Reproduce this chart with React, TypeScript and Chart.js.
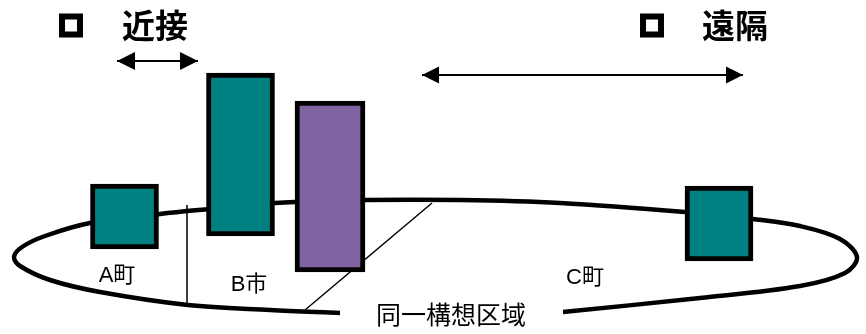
import React, { useEffect, useRef } from "react";
import { Chart, registerables } from "chart.js";

Chart.register(...registerables);

// Boxes (floating bars): centre x and [top, bottom] on the diagram's coordinate grid
const tealX = [124.5, 240.5, 719];
const tealRange = [[184, 249], [73, 236], [186, 261]];
const purpleX = [330];
const purpleRange = [[101, 272]];

// Outline of the region (ellipse), read along its path
const regionX = [340, 270, 188, 100, 50, 20, 14, 22, 45, 90, 160, 210, 275, 365, 460, 560, 685, 753, 800, 840, 857, 845, 800, 700, 563];
const regionY = [313, 310, 305, 292, 280, 266, 257, 247, 236, 223, 214, 209, 203, 200, 200, 203, 212, 219, 226, 239, 257, 273, 286, 298, 312];

// Divider lines
const dividerX = [187, 187];
const dividerY = [205, 306];
const diagonalX = [432, 305];
const diagonalY = [203, 310];

// Arrows
const nearArrowX = [117, 198];
const nearArrowY = [61, 61];
const farArrowX = [422, 743];
const farArrowY = [75, 75];

// Bullet markers
const markerX = [71, 652];
const markerY = [25.5, 25.5];

// Texts
const titleLabels = ["近接", "遠隔"];
const titleX = [155, 735];
const titleY = [25, 25];
const areaLabels = ["A町", "B市", "C町"];
const areaX = [117, 249, 585];
const areaY = [276, 285, 278];
const regionLabel = "同一構想区域";
const regionLabelX = 451;
const regionLabelY = 314;

const pts = (xs: number[], ys: number[]) => xs.map((x, i) => ({ x, y: ys[i] }));

const arrowPlugin = {
  id: "arrowHeads",
  afterDatasetsDraw(chart: any) {
    const ctx = chart.ctx;
    chart.data.datasets.forEach((ds: any, i: number) => {
      if (!ds.arrowHead) return;
      const meta = chart.getDatasetMeta(i);
      const els = meta.data;
      if (els.length < 2) return;
      const L = ds.arrowHead;
      const draw = (tip: any, from: any) => {
        const ang = Math.atan2(tip.y - from.y, tip.x - from.x);
        ctx.save();
        ctx.translate(tip.x, tip.y);
        ctx.rotate(ang);
        ctx.beginPath();
        ctx.moveTo(0, 0);
        ctx.lineTo(-L, -L / 2);
        ctx.lineTo(-L, L / 2);
        ctx.closePath();
        ctx.fillStyle = "#000";
        ctx.fill();
        ctx.restore();
      };
      draw(els[0], els[1]);
      draw(els[els.length - 1], els[els.length - 2]);
    });
  },
};

const textPlugin = {
  id: "diagramTexts",
  afterDraw(chart: any) {
    const ctx = chart.ctx;
    const sx = chart.scales.x;
    const sy = chart.scales.y;
    ctx.save();
    ctx.fillStyle = "#000";
    ctx.textAlign = "center";
    ctx.textBaseline = "middle";
    ctx.font = "bold 33px 'Noto Sans CJK JP'";
    titleLabels.forEach((t, i) => ctx.fillText(t, sx.getPixelForValue(titleX[i]), sy.getPixelForValue(titleY[i])));
    ctx.font = "22px 'Liberation Sans', 'Noto Sans CJK JP'";
    areaLabels.forEach((t, i) => ctx.fillText(t, sx.getPixelForValue(areaX[i]), sy.getPixelForValue(areaY[i])));
    ctx.font = "25px 'Noto Sans CJK JP'";
    ctx.fillText(regionLabel, sx.getPixelForValue(regionLabelX), sy.getPixelForValue(regionLabelY));
    ctx.restore();
  },
};

export default function App() {
  const ref = useRef<HTMLCanvasElement>(null);
  useEffect(() => {
    document.body.style.margin = "0";
    const chart = new Chart(ref.current!, {
      type: "bar",
      data: {
        datasets: [
          {
            type: "bar",
            data: tealX.map((x, i) => ({ x, y: tealRange[i] })) as any,
            backgroundColor: "#008080",
            borderColor: "#000",
            borderWidth: 5,
            borderSkipped: false,
            barThickness: 68,
            grouped: false,
            order: 0,
          } as any,
          {
            type: "bar",
            data: purpleX.map((x, i) => ({ x, y: purpleRange[i] })) as any,
            backgroundColor: "#8064A2",
            borderColor: "#000",
            borderWidth: 5,
            borderSkipped: false,
            barThickness: 70,
            grouped: false,
            order: 0,
          } as any,
          {
            type: "line",
            data: pts(regionX, regionY),
            borderColor: "#000",
            borderWidth: 4.5,
            tension: 0.35,
            pointRadius: 0,
            fill: false,
            order: 2,
          } as any,
          {
            type: "line",
            data: pts(dividerX, dividerY),
            borderColor: "#000",
            borderWidth: 1.5,
            pointRadius: 0,
            order: 3,
          } as any,
          {
            type: "line",
            data: pts(diagonalX, diagonalY),
            borderColor: "#000",
            borderWidth: 1.5,
            pointRadius: 0,
            order: 3,
          } as any,
          {
            type: "line",
            data: pts(nearArrowX, nearArrowY),
            borderColor: "#000",
            borderWidth: 2,
            pointRadius: 0,
            arrowHead: 18,
            order: 1,
          } as any,
          {
            type: "line",
            data: pts(farArrowX, farArrowY),
            borderColor: "#000",
            borderWidth: 2,
            pointRadius: 0,
            arrowHead: 17,
            order: 1,
          } as any,
          {
            type: "scatter",
            data: pts(markerX, markerY),
            pointStyle: "rect",
            pointRadius: 12.7,
            pointBackgroundColor: "#fff",
            pointBorderColor: "#000",
            pointBorderWidth: 6,
            order: 1,
          } as any,
        ],
      },
      options: {
        animation: false,
        responsive: false,
        maintainAspectRatio: false,
        layout: { padding: 0, autoPadding: false },
        plugins: { legend: { display: false }, tooltip: { enabled: false } },
        scales: {
          x: { type: "linear", min: 0, max: 866, display: false, offset: false, grace: 0 },
          y: { type: "linear", min: 0, max: 334, reverse: true, display: false, offset: false, grace: 0 },
        },
      },
      plugins: [arrowPlugin, textPlugin],
    });
    return () => chart.destroy();
  }, []);
  return (
    <div style={{ width: 866, height: 334, background: "#fff" }}>
      <canvas ref={ref} width={866} height={334} style={{ display: "block" }} />
    </div>
  );
}
